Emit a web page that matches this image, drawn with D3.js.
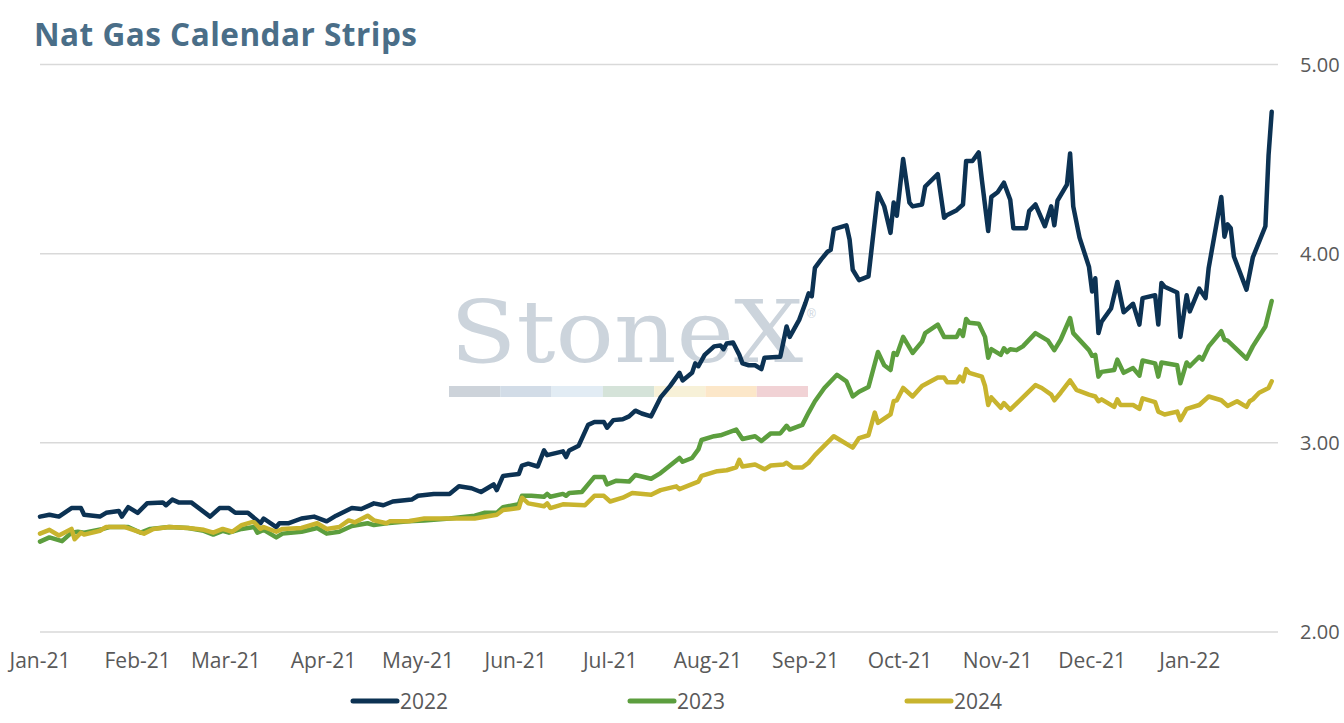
<!DOCTYPE html>
<html>
<head>
<meta charset="utf-8">
<script src="https://cdn.jsdelivr.net/npm/d3@7"></script>
<style>
    body { margin: 0; background: #ffffff; }
    #chart { width: 1344px; height: 723px; }
</style>
</head>
<body>
<div id="chart"></div>
<script>
// Series names / colours
const seriesNames = ["2022", "2023", "2024"];
const seriesColors = ["#0c3253", "#5c9e3e", "#c8b42e"];

// Axis ticks
const monthTicks = ["2021-01-01", "2021-02-01", "2021-03-01", "2021-04-01", "2021-05-01", "2021-06-01",
    "2021-07-01", "2021-08-01", "2021-09-01", "2021-10-01", "2021-11-01", "2021-12-01", "2022-01-01"];
const yTicks = [2, 3, 4, 5];

// Cal 2022 strip
const strip2022 = [
    ["2021-01-01", 2.61], ["2021-01-04", 2.62], ["2021-01-07", 2.61], ["2021-01-11", 2.655], ["2021-01-14", 2.655],
    ["2021-01-15", 2.62], ["2021-01-20", 2.61], ["2021-01-22", 2.63], ["2021-01-26", 2.64], ["2021-01-27", 2.61],
    ["2021-01-29", 2.66], ["2021-02-01", 2.63], ["2021-02-04", 2.68], ["2021-02-09", 2.685], ["2021-02-10", 2.67],
    ["2021-02-12", 2.70], ["2021-02-14", 2.685], ["2021-02-18", 2.685], ["2021-02-24", 2.61], ["2021-02-27", 2.655],
    ["2021-03-02", 2.655], ["2021-03-04", 2.63], ["2021-03-08", 2.63], ["2021-03-12", 2.575], ["2021-03-13", 2.60],
    ["2021-03-17", 2.555], ["2021-03-18", 2.575], ["2021-03-21", 2.575], ["2021-03-25", 2.60], ["2021-03-29", 2.61],
    ["2021-04-02", 2.585], ["2021-04-05", 2.615], ["2021-04-10", 2.655], ["2021-04-13", 2.65], ["2021-04-17", 2.68],
    ["2021-04-20", 2.67], ["2021-04-23", 2.69], ["2021-04-29", 2.70], ["2021-05-01", 2.72], ["2021-05-06", 2.73],
    ["2021-05-11", 2.73], ["2021-05-14", 2.77], ["2021-05-18", 2.76], ["2021-05-21", 2.74], ["2021-05-25", 2.78],
    ["2021-05-26", 2.75], ["2021-05-28", 2.825], ["2021-06-02", 2.835], ["2021-06-03", 2.88], ["2021-06-05", 2.89],
    ["2021-06-08", 2.875], ["2021-06-10", 2.96], ["2021-06-11", 2.935], ["2021-06-16", 2.955], ["2021-06-17", 2.925],
    ["2021-06-18", 2.96], ["2021-06-21", 2.985], ["2021-06-24", 3.095], ["2021-06-26", 3.11], ["2021-06-29", 3.11],
    ["2021-06-30", 3.08], ["2021-07-02", 3.12], ["2021-07-05", 3.125], ["2021-07-07", 3.14], ["2021-07-09", 3.17],
    ["2021-07-11", 3.155], ["2021-07-14", 3.14], ["2021-07-17", 3.24], ["2021-07-20", 3.30], ["2021-07-23", 3.37],
    ["2021-07-24", 3.33], ["2021-07-27", 3.37], ["2021-07-28", 3.42], ["2021-07-29", 3.405], ["2021-07-31", 3.465],
    ["2021-08-03", 3.51], ["2021-08-05", 3.515], ["2021-08-06", 3.495], ["2021-08-07", 3.525], ["2021-08-09", 3.53],
    ["2021-08-11", 3.465], ["2021-08-12", 3.42], ["2021-08-14", 3.41], ["2021-08-16", 3.41], ["2021-08-18", 3.39],
    ["2021-08-19", 3.45], ["2021-08-24", 3.455], ["2021-08-26", 3.615], ["2021-08-27", 3.56], ["2021-08-30", 3.65],
    ["2021-09-01", 3.74], ["2021-09-02", 3.79], ["2021-09-03", 3.775], ["2021-09-04", 3.925], ["2021-09-06", 3.97],
    ["2021-09-08", 4.01], ["2021-09-09", 4.02], ["2021-09-10", 4.13], ["2021-09-14", 4.15], ["2021-09-15", 4.075],
    ["2021-09-16", 3.915], ["2021-09-18", 3.86], ["2021-09-21", 3.88], ["2021-09-24", 4.32], ["2021-09-26", 4.25],
    ["2021-09-28", 4.11], ["2021-09-29", 4.27], ["2021-09-30", 4.20], ["2021-10-02", 4.50], ["2021-10-04", 4.27],
    ["2021-10-05", 4.25], ["2021-10-08", 4.26], ["2021-10-09", 4.355], ["2021-10-13", 4.42], ["2021-10-15", 4.19],
    ["2021-10-16", 4.205], ["2021-10-19", 4.23], ["2021-10-21", 4.26], ["2021-10-22", 4.49], ["2021-10-24", 4.49],
    ["2021-10-26", 4.535], ["2021-10-27", 4.39], ["2021-10-29", 4.12], ["2021-10-30", 4.30], ["2021-11-01", 4.325],
    ["2021-11-03", 4.375], ["2021-11-05", 4.285], ["2021-11-06", 4.135], ["2021-11-10", 4.135], ["2021-11-11", 4.225],
    ["2021-11-13", 4.26], ["2021-11-16", 4.145], ["2021-11-18", 4.25], ["2021-11-19", 4.15], ["2021-11-20", 4.28],
    ["2021-11-23", 4.365], ["2021-11-24", 4.53], ["2021-11-25", 4.25], ["2021-11-27", 4.085], ["2021-11-30", 3.93],
    ["2021-12-01", 3.80], ["2021-12-02", 3.87], ["2021-12-03", 3.58], ["2021-12-04", 3.64], ["2021-12-07", 3.71],
    ["2021-12-09", 3.85], ["2021-12-11", 3.69], ["2021-12-14", 3.735], ["2021-12-16", 3.625], ["2021-12-17", 3.765],
    ["2021-12-21", 3.78], ["2021-12-22", 3.625], ["2021-12-23", 3.845], ["2021-12-24", 3.825], ["2021-12-28", 3.795],
    ["2021-12-29", 3.56], ["2021-12-31", 3.78], ["2022-01-01", 3.695], ["2022-01-04", 3.815], ["2022-01-06", 3.765],
    ["2022-01-07", 3.925], ["2022-01-11", 4.30], ["2022-01-12", 4.09], ["2022-01-13", 4.155], ["2022-01-14", 4.135],
    ["2022-01-15", 3.985], ["2022-01-19", 3.81], ["2022-01-21", 3.98], ["2022-01-25", 4.145], ["2022-01-26", 4.52],
    ["2022-01-27", 4.75]
];

// Cal 2023 strip
const strip2023 = [
    ["2021-01-01", 2.478], ["2021-01-04", 2.50], ["2021-01-08", 2.48], ["2021-01-11", 2.525], ["2021-01-13", 2.53],
    ["2021-01-15", 2.525], ["2021-01-21", 2.545], ["2021-01-23", 2.555], ["2021-01-29", 2.555], ["2021-02-02", 2.525],
    ["2021-02-05", 2.545], ["2021-02-11", 2.555], ["2021-02-17", 2.55], ["2021-02-22", 2.535], ["2021-02-25", 2.515],
    ["2021-02-28", 2.535], ["2021-03-02", 2.525], ["2021-03-06", 2.545], ["2021-03-10", 2.555], ["2021-03-11", 2.525],
    ["2021-03-13", 2.54], ["2021-03-17", 2.50], ["2021-03-19", 2.52], ["2021-03-25", 2.53], ["2021-03-30", 2.55],
    ["2021-04-02", 2.52], ["2021-04-06", 2.53], ["2021-04-10", 2.56], ["2021-04-15", 2.575], ["2021-04-17", 2.565],
    ["2021-04-21", 2.575], ["2021-04-28", 2.585], ["2021-05-03", 2.59], ["2021-05-11", 2.60], ["2021-05-19", 2.615],
    ["2021-05-22", 2.63], ["2021-05-26", 2.63], ["2021-05-28", 2.66], ["2021-06-02", 2.675], ["2021-06-03", 2.72],
    ["2021-06-06", 2.72], ["2021-06-10", 2.715], ["2021-06-11", 2.73], ["2021-06-12", 2.715], ["2021-06-16", 2.73],
    ["2021-06-17", 2.72], ["2021-06-18", 2.735], ["2021-06-22", 2.74], ["2021-06-26", 2.82], ["2021-06-29", 2.82],
    ["2021-06-30", 2.78], ["2021-07-03", 2.80], ["2021-07-07", 2.795], ["2021-07-09", 2.83], ["2021-07-14", 2.81],
    ["2021-07-17", 2.84], ["2021-07-20", 2.88], ["2021-07-23", 2.92], ["2021-07-24", 2.90], ["2021-07-27", 2.92],
    ["2021-07-29", 2.965], ["2021-07-30", 3.015], ["2021-08-03", 3.035], ["2021-08-05", 3.04], ["2021-08-10", 3.07],
    ["2021-08-12", 3.02], ["2021-08-16", 3.035], ["2021-08-18", 3.01], ["2021-08-21", 3.05], ["2021-08-24", 3.05],
    ["2021-08-26", 3.09], ["2021-08-27", 3.07], ["2021-08-31", 3.095], ["2021-09-02", 3.16], ["2021-09-04", 3.22],
    ["2021-09-07", 3.29], ["2021-09-11", 3.36], ["2021-09-14", 3.325], ["2021-09-16", 3.245], ["2021-09-18", 3.27],
    ["2021-09-21", 3.295], ["2021-09-24", 3.48], ["2021-09-26", 3.41], ["2021-09-28", 3.385], ["2021-09-29", 3.475],
    ["2021-09-30", 3.465], ["2021-10-02", 3.56], ["2021-10-05", 3.475], ["2021-10-08", 3.535], ["2021-10-09", 3.58],
    ["2021-10-13", 3.625], ["2021-10-15", 3.56], ["2021-10-19", 3.56], ["2021-10-20", 3.595], ["2021-10-21", 3.565],
    ["2021-10-22", 3.655], ["2021-10-23", 3.635], ["2021-10-26", 3.63], ["2021-10-28", 3.56], ["2021-10-29", 3.45],
    ["2021-10-30", 3.495], ["2021-11-02", 3.465], ["2021-11-03", 3.50], ["2021-11-04", 3.48], ["2021-11-05", 3.495],
    ["2021-11-07", 3.49], ["2021-11-09", 3.51], ["2021-11-13", 3.58], ["2021-11-17", 3.54], ["2021-11-19", 3.49],
    ["2021-11-21", 3.545], ["2021-11-24", 3.66], ["2021-11-25", 3.58], ["2021-11-30", 3.49], ["2021-12-01", 3.46],
    ["2021-12-02", 3.465], ["2021-12-03", 3.35], ["2021-12-04", 3.375], ["2021-12-08", 3.385], ["2021-12-09", 3.44],
    ["2021-12-11", 3.37], ["2021-12-14", 3.395], ["2021-12-16", 3.355], ["2021-12-17", 3.435], ["2021-12-21", 3.42],
    ["2021-12-22", 3.35], ["2021-12-23", 3.425], ["2021-12-28", 3.41], ["2021-12-29", 3.315], ["2021-12-31", 3.425],
    ["2022-01-01", 3.405], ["2022-01-04", 3.455], ["2022-01-05", 3.44], ["2022-01-07", 3.51], ["2022-01-11", 3.59],
    ["2022-01-12", 3.545], ["2022-01-13", 3.54], ["2022-01-19", 3.445], ["2022-01-21", 3.51], ["2022-01-25", 3.615],
    ["2022-01-27", 3.75]
];

// Cal 2024 strip
const strip2024 = [
    ["2021-01-01", 2.52], ["2021-01-04", 2.54], ["2021-01-07", 2.51], ["2021-01-11", 2.545], ["2021-01-12", 2.49],
    ["2021-01-14", 2.525], ["2021-01-15", 2.515], ["2021-01-20", 2.535], ["2021-01-22", 2.555], ["2021-01-25", 2.555],
    ["2021-01-28", 2.555], ["2021-02-03", 2.52], ["2021-02-06", 2.545], ["2021-02-11", 2.555], ["2021-02-17", 2.55],
    ["2021-02-22", 2.54], ["2021-02-25", 2.525], ["2021-02-28", 2.545], ["2021-03-03", 2.53], ["2021-03-06", 2.565],
    ["2021-03-09", 2.58], ["2021-03-10", 2.58], ["2021-03-12", 2.545], ["2021-03-13", 2.555], ["2021-03-17", 2.53],
    ["2021-03-19", 2.545], ["2021-03-25", 2.55], ["2021-03-30", 2.575], ["2021-04-02", 2.545], ["2021-04-06", 2.555],
    ["2021-04-09", 2.59], ["2021-04-11", 2.58], ["2021-04-15", 2.615], ["2021-04-17", 2.59], ["2021-04-21", 2.575],
    ["2021-04-22", 2.585], ["2021-04-28", 2.585], ["2021-05-03", 2.60], ["2021-05-11", 2.60], ["2021-05-19", 2.60],
    ["2021-05-26", 2.62], ["2021-05-28", 2.645], ["2021-06-02", 2.655], ["2021-06-03", 2.71], ["2021-06-05", 2.68],
    ["2021-06-10", 2.665], ["2021-06-11", 2.68], ["2021-06-12", 2.655], ["2021-06-16", 2.675], ["2021-06-23", 2.67],
    ["2021-06-26", 2.72], ["2021-06-29", 2.72], ["2021-07-01", 2.69], ["2021-07-05", 2.71], ["2021-07-08", 2.735],
    ["2021-07-14", 2.725], ["2021-07-17", 2.75], ["2021-07-22", 2.77], ["2021-07-23", 2.755], ["2021-07-29", 2.795],
    ["2021-07-30", 2.825], ["2021-08-04", 2.85], ["2021-08-07", 2.855], ["2021-08-10", 2.87], ["2021-08-11", 2.91],
    ["2021-08-12", 2.875], ["2021-08-16", 2.885], ["2021-08-19", 2.86], ["2021-08-21", 2.88], ["2021-08-25", 2.885],
    ["2021-08-26", 2.895], ["2021-08-28", 2.87], ["2021-08-31", 2.87], ["2021-09-02", 2.895], ["2021-09-04", 2.935],
    ["2021-09-10", 3.035], ["2021-09-16", 2.975], ["2021-09-18", 3.025], ["2021-09-21", 3.04], ["2021-09-23", 3.16],
    ["2021-09-24", 3.105], ["2021-09-28", 3.15], ["2021-09-29", 3.22], ["2021-09-30", 3.225], ["2021-10-02", 3.29],
    ["2021-10-05", 3.245], ["2021-10-08", 3.30], ["2021-10-13", 3.345], ["2021-10-15", 3.345], ["2021-10-16", 3.32],
    ["2021-10-19", 3.32], ["2021-10-20", 3.35], ["2021-10-21", 3.325], ["2021-10-22", 3.39], ["2021-10-23", 3.37],
    ["2021-10-27", 3.35], ["2021-10-28", 3.30], ["2021-10-29", 3.20], ["2021-10-30", 3.24], ["2021-11-02", 3.185],
    ["2021-11-03", 3.21], ["2021-11-05", 3.175], ["2021-11-13", 3.305], ["2021-11-15", 3.29], ["2021-11-18", 3.255],
    ["2021-11-19", 3.225], ["2021-11-21", 3.265], ["2021-11-24", 3.33], ["2021-11-26", 3.28], ["2021-11-30", 3.255],
    ["2021-12-02", 3.245], ["2021-12-03", 3.22], ["2021-12-04", 3.23], ["2021-12-08", 3.19], ["2021-12-09", 3.23],
    ["2021-12-10", 3.20], ["2021-12-14", 3.20], ["2021-12-16", 3.18], ["2021-12-17", 3.235], ["2021-12-21", 3.215],
    ["2021-12-22", 3.165], ["2021-12-24", 3.15], ["2021-12-28", 3.165], ["2021-12-29", 3.12], ["2021-12-31", 3.18],
    ["2022-01-04", 3.20], ["2022-01-07", 3.245], ["2022-01-11", 3.225], ["2022-01-13", 3.195], ["2022-01-16", 3.22],
    ["2022-01-19", 3.19], ["2022-01-20", 3.22], ["2022-01-21", 3.23], ["2022-01-23", 3.265], ["2022-01-26", 3.29],
    ["2022-01-27", 3.325]
];

const seriesData = [strip2022, strip2023, strip2024];

// Watermark colour bar
const brandColors = ["#cdd3da", "#d2dce7", "#e2ecf4", "#d5e3d9", "#f7f1d8", "#fce7c9", "#f1d2d5"];

function drawChart() {
    const width = 1344;
    const height = 723;

    let leftMargin = 40;
    let rightEdge = 1278;
    let topY = 64.5;
    let bottomY = 632;

    const parseDate = d3.timeParse("%Y-%m-%d");
    const fontFamily = "'Open Sans', 'Noto Sans', sans-serif";

    let svg = d3.select("#chart").append("svg")
        .attr("width", width)
        .attr("height", height);

    // Skalen
    let xscale = d3.scaleTime()
        .domain([parseDate("2021-01-01"), parseDate("2022-01-29")])
        .range([leftMargin, rightEdge]);

    let yscale = d3.scaleLinear()
        .domain([2, 5])
        .range([bottomY, topY]);

    // Title
    svg.append("text")
        .attr("x", 34)
        .attr("y", 46)
        .attr("fill", "#4a6e88")
        .attr("textLength", 383)
        .attr("lengthAdjust", "spacing")
        .style("font-family", "'Open Sans', Lato, sans-serif")
        .style("font-weight", 700)
        .style("font-size", "31.5px")
        .text("Nat Gas Calendar Strips");

    // StoneX watermark (behind the lines)
    let mark = svg.append("g").attr("class", "watermark");
    mark.append("text")
        .attr("x", 450)
        .attr("y", 362)
        .attr("fill", "#ccd4dc")
        .attr("textLength", 353)
        .attr("lengthAdjust", "spacingAndGlyphs")
        .style("font-family", "'DejaVu Serif', 'Liberation Serif', serif")
        .style("font-size", "86px")
        .text("StoneX");
    mark.append("text")
        .attr("x", 807)
        .attr("y", 318)
        .attr("fill", "#ccd4dc")
        .style("font-family", "'Liberation Sans', sans-serif")
        .style("font-size", "12px")
        .text("\u00AE");

    let barScale = d3.scaleBand()
        .domain(d3.range(brandColors.length))
        .range([449, 808]);
    mark.selectAll("rect")
        .data(brandColors)
        .join("rect")
        .attr("x", (d, i) => barScale(i))
        .attr("y", 386)
        .attr("width", barScale.bandwidth())
        .attr("height", 11)
        .attr("fill", d => d);

    // Gridlines + y labels (right side)
    let yAxis = svg.append("g").attr("class", "y-axis");
    yAxis.selectAll("line")
        .data(yTicks)
        .join("line")
        .attr("x1", leftMargin)
        .attr("x2", rightEdge)
        .attr("y1", d => yscale(d))
        .attr("y2", d => yscale(d))
        .attr("stroke", "#d9d9d9")
        .attr("stroke-width", 1.5);
    yAxis.selectAll("text")
        .data(yTicks)
        .join("text")
        .attr("x", 1300)
        .attr("y", d => yscale(d))
        .attr("dy", "0.36em")
        .attr("fill", "#595959")
        .style("font-family", fontFamily)
        .style("font-size", "20px")
        .text(d => d3.format(".2f")(d));

    // X labels
    const monthFormat = d3.timeFormat("%b-%y");
    svg.append("g").attr("class", "x-axis")
        .selectAll("text")
        .data(monthTicks.map(parseDate))
        .join("text")
        .attr("x", d => xscale(d))
        .attr("y", 668)
        .attr("text-anchor", "middle")
        .attr("fill", "#595959")
        .style("font-family", fontFamily)
        .style("font-size", "21px")
        .text(d => monthFormat(d));

    // Linien
    let line = d3.line()
        .x(d => xscale(parseDate(d[0])))
        .y(d => yscale(d[1]));

    svg.append("g").attr("class", "lines")
        .selectAll("path")
        .data(seriesData)
        .join("path")
        .attr("d", d => line(d))
        .attr("fill", "none")
        .attr("stroke", (d, i) => seriesColors[i])
        .attr("stroke-width", 4.5)
        .attr("stroke-linejoin", "round")
        .attr("stroke-linecap", "round");

    // Legende
    let legend = svg.append("g").attr("class", "legend")
        .selectAll("g")
        .data(seriesNames)
        .join("g")
        .attr("transform", (d, i) => `translate(${353 + i * 277}, 701)`);
    legend.append("line")
        .attr("x1", 0)
        .attr("x2", 44)
        .attr("stroke", (d, i) => seriesColors[i])
        .attr("stroke-width", 5)
        .attr("stroke-linecap", "round");
    legend.append("text")
        .attr("x", 47)
        .attr("dy", "0.36em")
        .attr("fill", "#595959")
        .style("font-family", fontFamily)
        .style("font-size", "21px")
        .text(d => d);
}

drawChart();
</script>
</body>
</html>
